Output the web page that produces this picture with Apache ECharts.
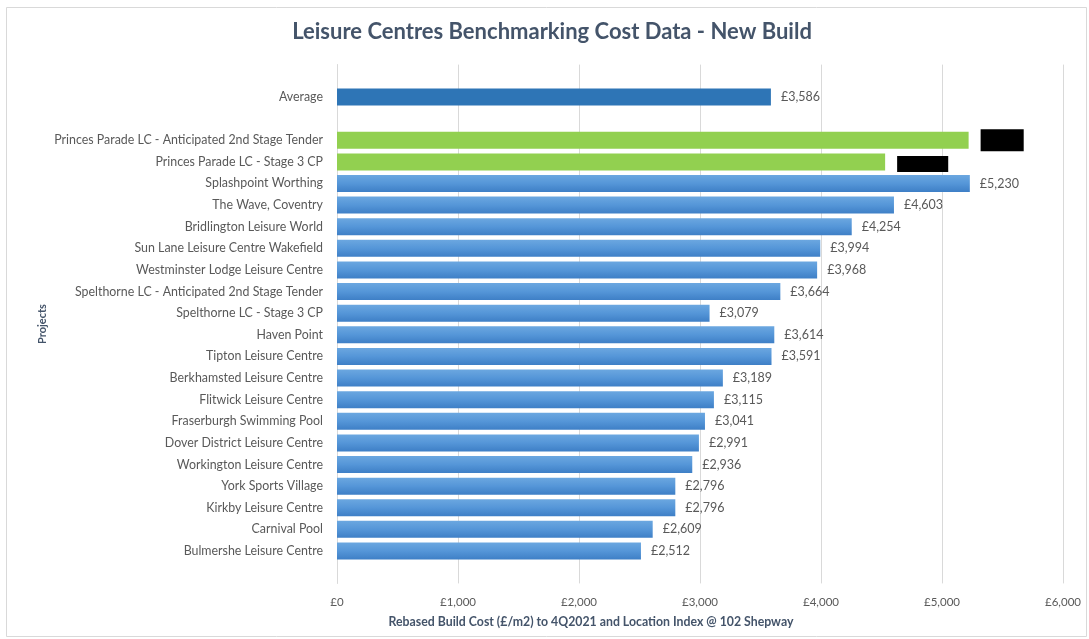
<!DOCTYPE html>
<html>
<head>
<meta charset="utf-8">
<script src="https://cdn.jsdelivr.net/npm/echarts@6/dist/echarts.min.js"></script>
<style>
html,body{margin:0;padding:0;background:#fff;}
#chart{width:1089px;height:639px;}
</style>
</head>
<body>
<div id="chart"></div>
<script>
// Categories (top to bottom); blank entries are empty spacer rows in the original chart
const categories = [
  " ",
  "Average",
  "  ",
  "Princes Parade LC - Anticipated 2nd Stage Tender",
  "Princes Parade LC - Stage 3 CP",
  "Splashpoint Worthing",
  "The Wave, Coventry",
  "Bridlington Leisure World",
  "Sun Lane Leisure Centre Wakefield",
  "Westminster Lodge Leisure Centre",
  "Spelthorne LC - Anticipated 2nd Stage Tender",
  "Spelthorne LC - Stage 3 CP",
  "Haven Point",
  "Tipton Leisure Centre",
  "Berkhamsted Leisure Centre",
  "Flitwick Leisure Centre",
  "Fraserburgh Swimming Pool",
  "Dover District Leisure Centre",
  "Workington Leisure Centre",
  "York Sports Village",
  "Kirkby Leisure Centre",
  "Carnival Pool",
  "Bulmershe Leisure Centre",
  "   "
];
// Rebased build cost £/m2 (Princes Parade values are redacted in the source)
const values = [
  null,
  3586,
  null,
  5220,
  4530,
  5230, 4603, 4254, 3994, 3968, 3664, 3079, 3614, 3591,
  3189, 3115, 3041, 2991, 2936, 2796, 2796, 2609, 2512,
  null
];
const averageCategory = ["Average"];
const princesParadeCategories = ["Princes Parade LC - Anticipated 2nd Stage Tender", "Princes Parade LC - Stage 3 CP"];
const xTicks = [0, 1000, 2000, 3000, 4000, 5000, 6000];

const FONT = "Lato";
const fmt = v => "£" + Number(v).toLocaleString("en-GB");

const chart = echarts.init(document.getElementById("chart"), null, {renderer: "canvas"});

const blueGrad = new echarts.graphic.LinearGradient(0, 0, 0, 1, [
  {offset: 0, color: "#6BA7E0"},
  {offset: 0.5, color: "#5596D8"},
  {offset: 1, color: "#3E7FC6"}
]);

const seriesData = values.map((v, i) => {
  const cat = categories[i];
  if (v === null) return null;
  if (averageCategory.includes(cat)) {
    return {value: v, itemStyle: {color: "#2E75B6"}};
  }
  if (princesParadeCategories.includes(cat)) {
    const first = cat === princesParadeCategories[0];
    return {
      value: v,
      itemStyle: {color: "#92D050"},
      label: {
        color: "#000",
        backgroundColor: "#000",
        padding: first ? [5, 2, 4, 2] : [2, 6, 1, 6],
        offset: first ? [0, 0] : [0, 2],
        distance: 12
      }
    };
  }
  return {value: v, itemStyle: {color: blueGrad}};
});

chart.setOption({
  animation: false,
  backgroundColor: "#fff",
  title: [
    {
      text: "Leisure Centres Benchmarking Cost Data - New Build",
      left: 547, top: 16, textAlign: "center",
      textStyle: {fontFamily: FONT, fontSize: 22, fontWeight: "bold", color: "#44546A"}
    },
    {
      text: "Rebased Build Cost (£/m2) to 4Q2021 and Location Index @ 102 Shepway",
      left: 586, top: 611, textAlign: "center",
      textStyle: {fontFamily: FONT, fontSize: 12.3, fontWeight: "bold", color: "#44546A"}
    }
  ],
  graphic: [{
    type: "rect", left: 4, top: 5, silent: true, z: -1,
    shape: {width: 1080, height: 629},
    style: {fill: "none", stroke: "#D9D9D9", lineWidth: 1}
  }],
  grid: {left: 337, right: 26, top: 64.6, bottom: 55.6, containLabel: false},
  xAxis: {
    type: "value",
    min: xTicks[0], max: xTicks[xTicks.length - 1], interval: 1000,
    axisLine: {show: false},
    axisTick: {show: false},
    splitLine: {show: true, lineStyle: {color: "#D9D9D9", width: 1}},
    axisLabel: {
      fontFamily: FONT, fontSize: 11.5, color: "#595959", margin: 13,
      formatter: v => fmt(v)
    }
  },
  yAxis: {
    type: "category",
    data: categories,
    inverse: true,
    name: "Projects",
    nameLocation: "middle",
    nameRotate: 90,
    nameGap: 289,
    nameMoveOverlap: false,
    nameTextStyle: {fontFamily: FONT, fontSize: 11, fontWeight: "bold", color: "#44546A"},
    axisLine: {show: true, lineStyle: {color: "#D9D9D9"}},
    axisTick: {show: false},
    splitLine: {show: false},
    axisLabel: {fontFamily: FONT, fontSize: 12.4, color: "#595959", margin: 14, interval: 0}
  },
  series: [{
    type: "bar",
    data: seriesData,
    barWidth: 17,
    label: {
      show: true, position: "right", distance: 10,
      fontFamily: FONT, fontSize: 12.5, color: "#595959",
      formatter: p => fmt(p.value)
    }
  }]
});
</script>
</body>
</html>
